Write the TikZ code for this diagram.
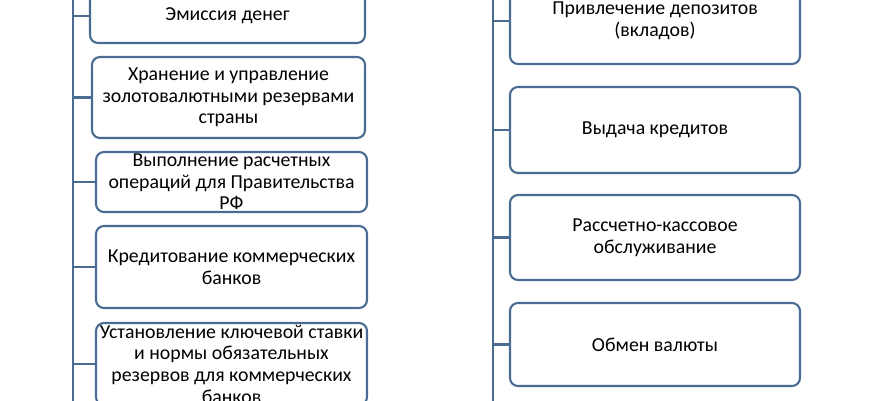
\documentclass[tikz,border=0pt]{standalone}
\usepackage{fontspec}
\setmainfont{Carlito}
\definecolor{frame}{RGB}{74,108,146}

\begin{document}
\begin{tikzpicture}[x=1pt,y=-1pt,
  box/.style={draw=frame, line width=2.1pt, rounded corners=8pt, fill=white, align=center,
    inner sep=0pt, font=\fontsize{19.8}{21.6}\selectfont},
  link/.style={draw=frame, line width=2.1pt}]
\useasboundingbox (0,0) rectangle (870,400);
% left column
\coordinate (ltop) at (73,-10);
\coordinate (lbot) at (73,410);
\node[box, minimum width=275, minimum height=54] (emission) at (227.5,16) {Эмиссия денег};
\node[box, minimum width=273, minimum height=81] (reserves) at (228.5,97.5) {Хранение и управление\\золотовалютными резервами\\страны};
\node[box, minimum width=271, minimum height=60] (settlement) at (231.5,182) {Выполнение расчетных\\операций для Правительства\\РФ};
\node[box, minimum width=271, minimum height=82] (crediting) at (231.5,267) {Кредитование коммерческих\\банков};
\node[box, minimum width=271, minimum height=82] (keyrate) at (231.5,364) {Установление ключевой ставки\\и нормы обязательных\\резервов для коммерческих\\банков};
\draw[link] (ltop) -- (lbot);
\foreach \n in {emission,reserves,settlement,crediting,keyrate}
  \draw[link] (ltop |- \n.west) -- (\n.west);
% right column
\coordinate (rtop) at (493,-10);
\coordinate (rbot) at (493,410);
\node[box, minimum width=290, minimum height=86] (deposits) at (655,21) {Привлечение депозитов\\(вкладов)};
\node[box, minimum width=290, minimum height=86] (loans) at (655,130) {Выдача кредитов};
\node[box, minimum width=290, minimum height=85] (cashservice) at (655,237.5) {Рассчетно-кассовое\\обслуживание};
\node[box, minimum width=290, minimum height=83] (exchange) at (655,344.5) {Обмен валюты};
\draw[link] (rtop) -- (rbot);
\foreach \n in {deposits,loans,cashservice,exchange}
  \draw[link] (rtop |- \n.west) -- (\n.west);
\end{tikzpicture}
\end{document}
